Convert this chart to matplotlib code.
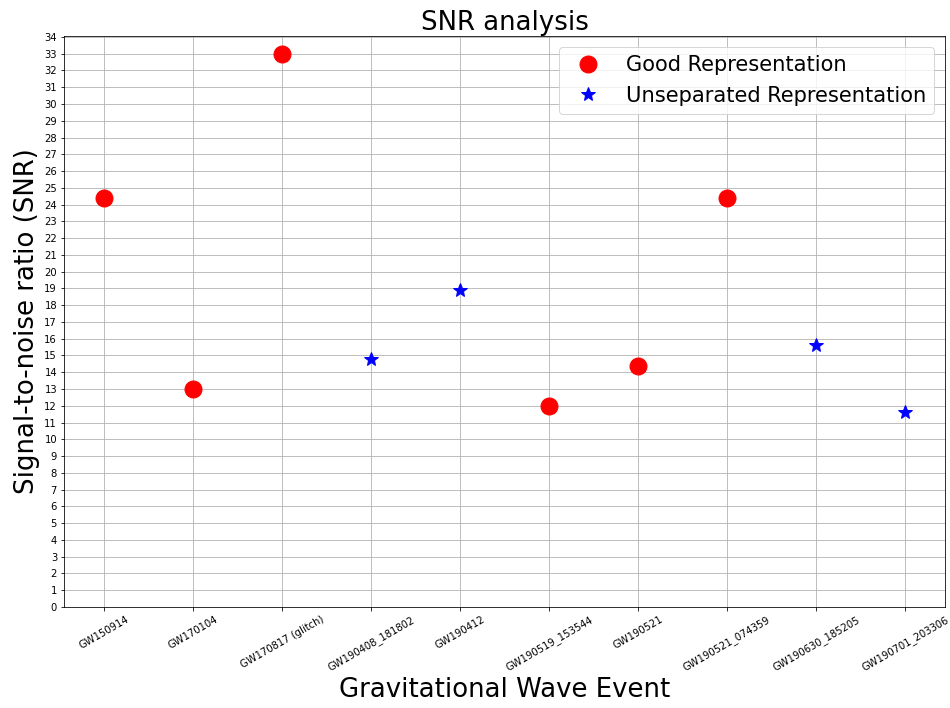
import numpy as np
import matplotlib
matplotlib.use('Agg')
import matplotlib.pyplot as plt

# events and SNR values
events = ['GW150914', 'GW170104', 'GW170817 (glitch)', 'GW190408_181802', 'GW190412',
          'GW190519_153544', 'GW190521', 'GW190521_074359', 'GW190630_185205', 'GW190701_203306']
good_events = ['GW150914', 'GW170104', 'GW170817 (glitch)', 'GW190519_153544',
               'GW190521', 'GW190521_074359']
good_snr = [24.4, 13.0, 33.0, 12.0, 14.4, 24.4]
unsep_events = ['GW190408_181802', 'GW190412', 'GW190630_185205', 'GW190701_203306']
unsep_snr = [14.8, 18.9, 15.6, 11.6]

pos = {e: i for i, e in enumerate(events)}

fig = plt.figure(figsize=(950/72, 708/72), dpi=72)
ax = fig.add_axes([0.0674, 0.1427, 0.9273, 0.8063])

ax.plot([pos[e] for e in good_events], good_snr, 'o', color='red', markersize=17,
        linestyle='none', label='Good Representation')
ax.plot([pos[e] for e in unsep_events], unsep_snr, '*', color='blue', markersize=15,
        linestyle='none', label='Unseparated Representation')

ax.set_xticks(range(len(events)))
ax.set_xticklabels(events, rotation=30, fontsize=10)
ax.set_yticks(np.arange(0, 35, 1))
ax.tick_params(axis='y', labelsize=10)
ax.set_ylim(0, 34.05)
ax.grid(True)

ax.set_title('SNR analysis', fontsize=26)
ax.set_xlabel('Gravitational Wave Event', fontsize=26)
ax.set_ylabel('Signal-to-noise ratio (SNR)', fontsize=26)
ax.legend(loc='upper right', fontsize=21)

fig.savefig('out.png', dpi=72)
